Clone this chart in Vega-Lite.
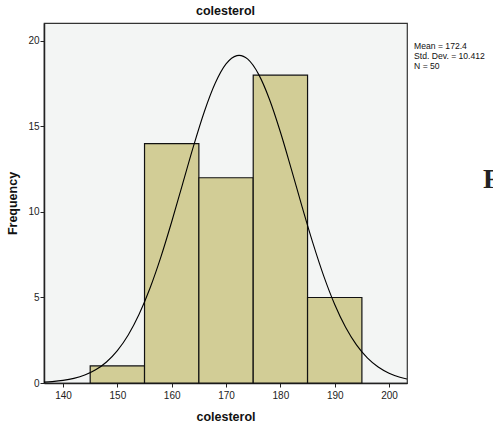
{
  "$schema": "https://vega.github.io/schema/vega-lite/v6.json",
  "autosize": "none",
  "padding": {"left": 44, "top": 23, "right": 86, "bottom": 41},
  "width": 363,
  "height": 360,
  "background": "white",
  "title": {"text": "colesterol", "fontSize": 12.5, "fontWeight": "bold", "font": "Liberation Sans", "color": "#111", "offset": 6, "anchor": "middle"},
  "config": {
    "view": {"fill": "#F3F5F4", "stroke": "#333", "strokeWidth": 1.2},
    "axis": {"labelFont": "Liberation Sans", "labelFontSize": 10, "labelColor": "#222", "titleFont": "Liberation Sans", "titleFontSize": 12.5, "titleFontWeight": "bold", "titleColor": "#111", "grid": false, "domainColor": "#222", "domainWidth": 1.5, "tickColor": "#222", "tickSize": 4}
  },
  "datasets": {
    "bars": [
      {"lo": 145, "hi": 155, "count": 1},
      {"lo": 155, "hi": 165, "count": 14},
      {"lo": 165, "hi": 175, "count": 12},
      {"lo": 175, "hi": 185, "count": 18},
      {"lo": 185, "hi": 195, "count": 5}
    ],
    "curve": [
      {"x": 136.5, "y": 0.05}, {"x": 138, "y": 0.082}, {"x": 140, "y": 0.151}, {"x": 142, "y": 0.27}, {"x": 144, "y": 0.464},
      {"x": 146, "y": 0.77}, {"x": 148, "y": 1.23}, {"x": 150, "y": 1.894}, {"x": 152, "y": 2.811}, {"x": 154, "y": 4.021},
      {"x": 156, "y": 5.541}, {"x": 158, "y": 7.362}, {"x": 160, "y": 9.43}, {"x": 162, "y": 11.633}, {"x": 164, "y": 13.836},
      {"x": 166, "y": 15.861}, {"x": 168, "y": 17.522}, {"x": 170, "y": 18.656}, {"x": 172, "y": 19.144}, {"x": 172.4, "y": 19.158},
      {"x": 174, "y": 18.933}, {"x": 176, "y": 18.046}, {"x": 178, "y": 16.579}, {"x": 180, "y": 14.677}, {"x": 182, "y": 12.524},
      {"x": 184, "y": 10.299}, {"x": 186, "y": 8.163}, {"x": 188, "y": 6.236}, {"x": 190, "y": 4.59}, {"x": 192, "y": 3.257},
      {"x": 194, "y": 2.228}, {"x": 196, "y": 1.468}, {"x": 198, "y": 0.932}, {"x": 200, "y": 0.571}, {"x": 202, "y": 0.337},
      {"x": 203.3, "y": 0.234}
    ],
    "stats": [{"label": "Mean = 172.4|Std. Dev. = 10.412|N = 50"}],
    "side": [{"label": "F"}]
  },
  "layer": [
    {
      "data": {"name": "bars"},
      "mark": {"type": "rect", "fill": "#D2CD96", "stroke": "#111", "strokeWidth": 1.2},
      "encoding": {
        "x": {"field": "lo", "type": "quantitative", "scale": {"domain": [136.5, 203.3], "nice": false, "zero": false},
              "axis": {"title": "colesterol", "values": [140, 150, 160, 170, 180, 190, 200], "labelPadding": 3, "titlePadding": 10}},
        "x2": {"field": "hi"},
        "y": {"field": "count", "type": "quantitative", "scale": {"domain": [0, 21.05], "nice": false},
              "axis": {"title": "Frequency", "values": [0, 5, 10, 15, 20], "labelPadding": 1, "titlePadding": 8}},
        "y2": {"datum": 0}
      }
    },
    {
      "data": {"name": "curve"},
      "mark": {"type": "line", "color": "#000", "strokeWidth": 1.1, "interpolate": "monotone", "clip": true},
      "encoding": {
        "x": {"field": "x", "type": "quantitative"},
        "y": {"field": "y", "type": "quantitative"}
      }
    },
    {
      "data": {"name": "stats"},
      "mark": {"type": "text", "align": "left", "baseline": "top", "font": "Liberation Sans", "fontSize": 8.6, "lineHeight": 10.3, "lineBreak": "|", "color": "#111", "clip": false},
      "encoding": {
        "text": {"field": "label"},
        "x": {"datum": 204.6},
        "y": {"datum": 19.95}
      }
    },
    {
      "data": {"name": "side"},
      "mark": {"type": "text", "align": "left", "baseline": "alphabetic", "font": "Liberation Serif", "fontWeight": "bold", "fontSize": 28, "color": "#222", "clip": false},
      "encoding": {
        "text": {"field": "label"},
        "x": {"datum": 217.3},
        "y": {"datum": 11.4}
      }
    }
  ]
}
